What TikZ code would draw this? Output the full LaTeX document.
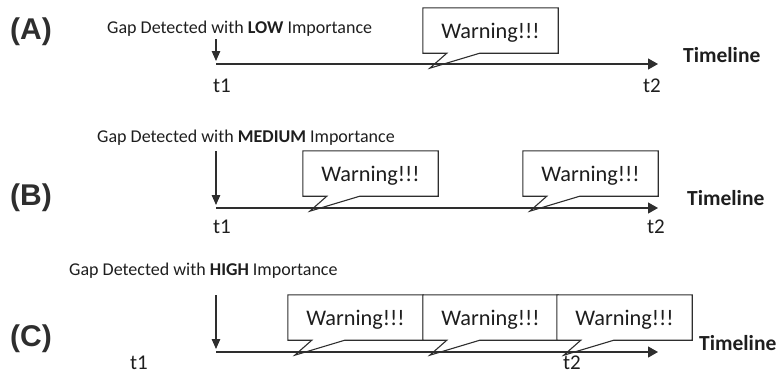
\documentclass[tikz,border=0pt]{standalone}
\usepackage{fontspec}
\setmainfont{Carlito}
\newfontfamily\panelfont{Liberation Sans}
\usetikzlibrary{arrows.meta,calc}
\definecolor{ink}{HTML}{1E1E1E}
\definecolor{rule}{HTML}{2E2E2E}
\tikzset{
  panel/.style={font=\panelfont\bfseries\fontsize{30}{30}\selectfont, text=rule, inner sep=0pt},
  gaplabel/.style={font=\fontsize{18}{18}\selectfont, text=ink, anchor=base west, inner sep=0pt},
  tick/.style={font=\fontsize{21}{21}\selectfont, text=ink, anchor=base west, inner sep=0pt},
  tlname/.style={font=\bfseries\fontsize{21.5}{21.5}\selectfont, text=ink, anchor=base west, inner sep=0pt},
  warnbox/.style={minimum width=135pt, minimum height=45pt, inner sep=0pt, text depth=0pt,
                  font=\fontsize{22.3}{22.3}\selectfont, text=ink},
  timeline/.style={draw=rule, line width=1.2pt, -{Triangle[length=10pt,width=11pt]}},
  gaparrow/.style={draw=rule, line width=1.2pt, -{Triangle[length=10pt,width=8.5pt]}},
  outline/.style={draw=rule, line width=1.1pt, fill=white, line join=miter},
}
% Callout with a tail under its lower-left part: name, left x, top y
\newcommand\warncallout[3]{%
  \node[warnbox] (#1) at (#2+67.5,#3+22.5) {Warning!!!};
  \draw[outline] (#1.north west) -- (#1.north east) -- (#1.south east)
    -- ($(#1.south west)+(57,0)$) -- ($(#1.south west)+(7,15)$)
    -- ($(#1.south west)+(24,0)$) -- (#1.south west) -- cycle;
  \node[warnbox] at (#1.center) {Warning!!!};
}
\begin{document}
\begin{tikzpicture}[x=1pt,y=-1pt]
\useasboundingbox (0,0) rectangle (776,373);

% ---------- (A) low importance ----------
\node[panel] (pa) at (31,32) {(A)};
\node[gaplabel] (ga) at (107,33) {Gap Detected with \textbf{LOW} Importance};
\coordinate (ga0) at (216,39);
\coordinate (ga1) at (216,61);
\draw[gaparrow] (ga0) -- (ga1);
\warncallout{wa1}{423}{8}
\coordinate (la0) at (216,64);
\coordinate (la1) at (658,64);
\draw[timeline] (la0) -- (la1);
\node[tick] (ta1) at (213,92) {t1};
\node[tick] (ta2) at (643,92) {t2};
\node[tlname] (tla) at (683,62) {Timeline};

% ---------- (B) medium importance ----------
\node[panel] (pb) at (31,198) {(B)};
\node[gaplabel] (gb) at (97,142) {Gap Detected with \textbf{MEDIUM} Importance};
\coordinate (gb0) at (216,151);
\coordinate (gb1) at (216,205);
\draw[gaparrow] (gb0) -- (gb1);
\warncallout{wb1}{303}{151}
\warncallout{wb2}{523}{151}
\coordinate (lb0) at (216,208);
\coordinate (lb1) at (658,208);
\draw[timeline] (lb0) -- (lb1);
\node[tick] (tb1) at (213,233) {t1};
\node[tick] (tb2) at (647,233) {t2};
\node[tlname] (tlb) at (687,205) {Timeline};

% ---------- (C) high importance ----------
\node[panel] (pc) at (31,339) {(C)};
\node[gaplabel] (gc) at (69,275) {Gap Detected with \textbf{HIGH} Importance};
\coordinate (gc0) at (216,295);
\coordinate (gc1) at (216,349);
\draw[gaparrow] (gc0) -- (gc1);
\warncallout{wc1}{288}{295}
\warncallout{wc2}{423}{295}
\warncallout{wc3}{557}{295}
\coordinate (lc0) at (216,352);
\coordinate (lc1) at (658,352);
\draw[timeline] (lc0) -- (lc1);
\node[tick] (tc1) at (130,369) {t1};
\node[tick] (tc2) at (563,369) {t2};
\node[tlname] (tlc) at (699,350) {Timeline};
\end{tikzpicture}
\end{document}
